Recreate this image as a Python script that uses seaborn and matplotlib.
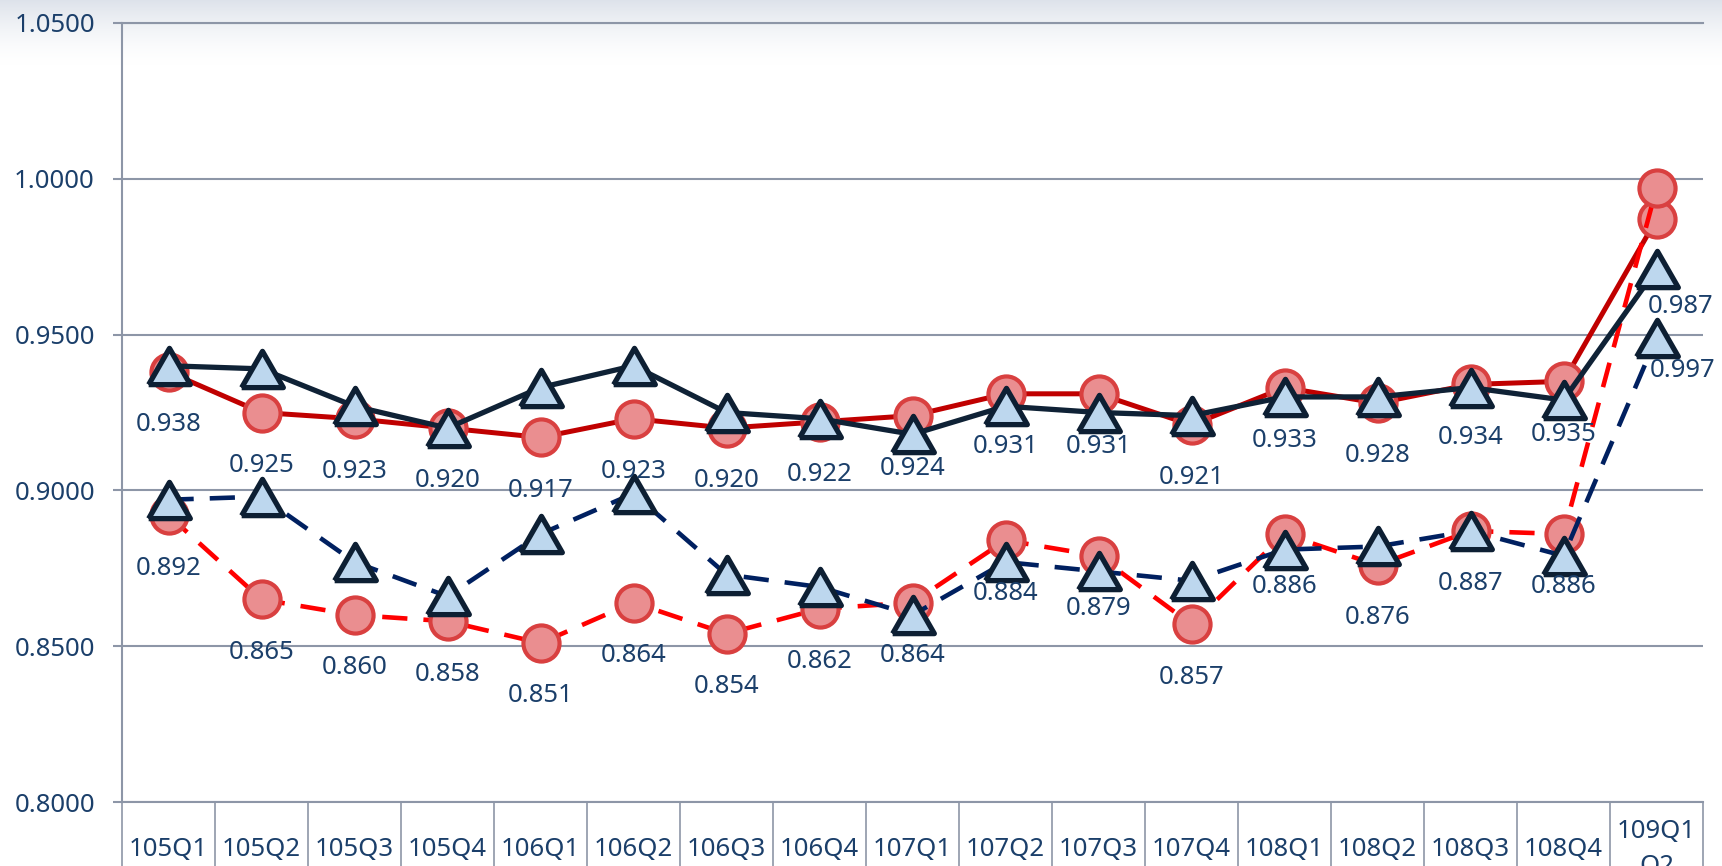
import numpy as np
import pandas as pd
import matplotlib
matplotlib.use("Agg")
import matplotlib.pyplot as plt
import seaborn as sns
from matplotlib.ticker import FixedLocator, FormatStrFormatter

# quarters on the x axis (last one wraps in the original chart)
quarters = ['105Q1', '105Q2', '105Q3', '105Q4', '106Q1', '106Q2', '106Q3', '106Q4',
            '107Q1', '107Q2', '107Q3', '107Q4', '108Q1', '108Q2', '108Q3', '108Q4',
            '109Q1\nQ2']

# red series (labelled in the chart)
red_solid = [0.938, 0.925, 0.923, 0.920, 0.917, 0.923, 0.920, 0.922, 0.924,
             0.931, 0.931, 0.921, 0.933, 0.928, 0.934, 0.935, 0.987]
red_dashed = [0.892, 0.865, 0.860, 0.858, 0.851, 0.864, 0.854, 0.862, 0.864,
              0.884, 0.879, 0.857, 0.886, 0.876, 0.887, 0.886, 0.997]

# navy series (no labels)
navy_solid = [0.940, 0.939, 0.927, 0.920, 0.933, 0.940, 0.925, 0.923, 0.918,
              0.927, 0.925, 0.924, 0.930, 0.930, 0.933, 0.929, 0.971]
navy_dashed = [0.897, 0.898, 0.877, 0.866, 0.886, 0.899, 0.873, 0.869, 0.860,
               0.877, 0.874, 0.871, 0.881, 0.882, 0.887, 0.879, 0.949]

grid_c = '#8D96A7'
text_c = '#1B3F6A'
fs = 18.5

sns.set_theme(style='white')
plt.rcParams['font.family'] = ['Noto Sans', 'DejaVu Sans']

W, H = 1722, 866
fig = plt.figure(figsize=(W / 100, H / 100), dpi=100)

# soft grey shade along the top edge
bg = fig.add_axes([0, 0, 1, 1], zorder=0)
rows = np.linspace(0, 1, H)
fade = np.clip(1 - rows / 0.075, 0, 1) ** 1.6
top_rgb = np.array([0.87, 0.89, 0.92])
img = np.ones((H, 1, 3)) - fade[:, None, None] * (1 - top_rgb)
bg.imshow(img, aspect='auto', extent=[0, 1, 0, 1], origin='upper')
bg.axis('off')

left, right, top, bottom = 122, 1703, 23, 802
ax = fig.add_axes([left / W, 1 - bottom / H, (right - left) / W, (bottom - top) / H], zorder=1)
ax.patch.set_alpha(0)

df = pd.DataFrame({'pos': np.arange(len(quarters)), 'quarter': quarters,
                   'red_solid': red_solid, 'red_dashed': red_dashed,
                   'navy_solid': navy_solid, 'navy_dashed': navy_dashed})

tri = [(-1, -0.87), (1, -0.87), (0, 0.87), (-1, -0.87)]
circ_kw = dict(marker='o', ms=26, markerfacecolor='#EA8E90', markeredgecolor='#D94040', markeredgewidth=3)
tri_kw = dict(marker=tri, ms=30, markerfacecolor='#BDD7EE', markeredgecolor='#0D1F33', markeredgewidth=3.8)

sns.lineplot(data=df, x='pos', y='red_solid', ax=ax, color='#C00000', lw=3.6,
             errorbar=None, zorder=3, **circ_kw)
sns.lineplot(data=df, x='pos', y='red_dashed', ax=ax, color='#FF0000', lw=3.3,
             linestyle=(0, (5.5, 3.5)), errorbar=None, zorder=4, **circ_kw)
sns.lineplot(data=df, x='pos', y='navy_solid', ax=ax, color='#0F2236', lw=3.8,
             errorbar=None, zorder=5, **tri_kw)
sns.lineplot(data=df, x='pos', y='navy_dashed', ax=ax, color='#002060', lw=3.3,
             linestyle=(0, (5.5, 3.5)), errorbar=None, zorder=6, **tri_kw)

# data labels under the red points; the last two were moved aside in the original
n = len(quarters)
for series in (red_solid, red_dashed):
    for i, v in enumerate(series[:-1]):
        ax.annotate(f'{v:.3f}', (i, v), xytext=(0, -38), textcoords='offset points',
                    ha='center', va='center', fontsize=fs, color=text_c, zorder=7,
                    annotation_clip=False)
ax.annotate(f'{red_solid[-1]:.3f}', (n - 1, red_solid[-1]), xytext=(17, -63),
            textcoords='offset points', ha='center', va='center', fontsize=fs,
            color=text_c, zorder=7, annotation_clip=False)
ax.annotate(f'{red_dashed[-1]:.3f}', (n - 1, red_dashed[-1]), xytext=(19, -131),
            textcoords='offset points', ha='center', va='center', fontsize=fs,
            color=text_c, zorder=7, annotation_clip=False)

ax.set_xlim(-0.5, n - 0.5)
ax.set_ylim(0.8, 1.05)
ax.set_xlabel('')
ax.set_ylabel('')

ax.yaxis.set_major_locator(FixedLocator([0.80, 0.85, 0.90, 0.95, 1.00, 1.05]))
ax.yaxis.set_major_formatter(FormatStrFormatter('%.4f'))
ax.grid(axis='y', color=grid_c, lw=1.5)
ax.grid(axis='x', visible=False)
ax.set_axisbelow(True)

ax.set_xticks(np.arange(n))
ax.set_xticklabels(quarters)
ax.set_xticks(np.arange(n + 1) - 0.5, minor=True)
ax.tick_params(axis='x', which='major', bottom=True, length=0, pad=34, labelsize=fs,
               labelcolor=text_c)
ax.tick_params(axis='x', which='minor', bottom=True, length=48, width=1.2, color=grid_c,
               direction='out')
ax.tick_params(axis='y', length=6.5, width=1.5, color=grid_c, pad=13, labelsize=fs,
               labelcolor=text_c, left=True)
for lab in ax.get_xticklabels():
    lab.set_verticalalignment('center')
    lab.set_linespacing(1.55)

for side in ('left', 'bottom', 'top'):
    ax.spines[side].set_visible(True)
    ax.spines[side].set_color(grid_c)
    ax.spines[side].set_linewidth(1.5)
ax.spines['right'].set_visible(False)

fig.savefig('out.png', dpi=100)
